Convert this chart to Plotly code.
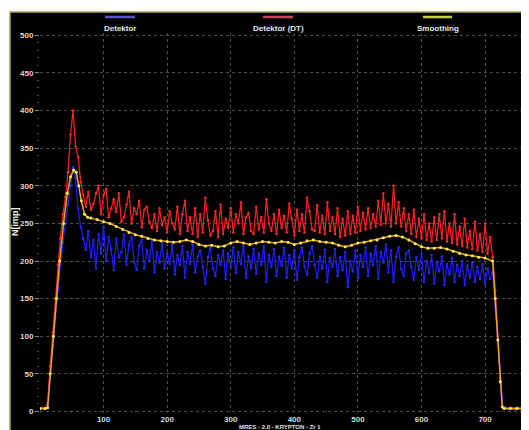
import plotly.graph_objects as go

# ---- data ----
x_det = list(range(0, 760, 4))

det_dt = [4, 5, 4, 12, 60, 105, 150, 195, 230, 262,
          285, 318, 368, 400, 352, 338, 305, 288, 272, 292,
          268, 276, 290, 300, 262, 288, 296, 258, 270, 282,
          265, 290, 252, 258, 275, 292, 250, 270, 262, 280,
          245, 268, 272, 252, 244, 262, 240, 270, 248, 258,
          238, 266, 250, 242, 272, 236, 262, 280, 240, 258,
          236, 270, 232, 262, 238, 284, 254, 234, 240, 266,
          232, 275, 236, 256, 244, 270, 238, 262, 250, 278,
          236, 258, 264, 240, 236, 272, 242, 258, 238, 282,
          250, 240, 262, 236, 268, 244, 260, 238, 276, 256,
          234, 268, 240, 262, 238, 284, 266, 242, 240, 274,
          238, 260, 236, 278, 240, 258, 236, 270, 232, 256,
          234, 266, 236, 260, 238, 272, 240, 264, 242, 270,
          244, 262, 246, 280, 248, 290, 250, 276, 246, 300,
          250, 278, 246, 270, 240, 262, 236, 268, 232, 256,
          230, 262, 228, 250, 226, 258, 228, 262, 230, 266,
          226, 250, 224, 262, 222, 246, 220, 256, 218, 240,
          216, 252, 214, 236, 212, 250, 210, 232, 205, 160,
          100, 44, 6, 4, 4, 5, 4, 4, 5, 4]

det = [3, 4, 3, 8, 48, 88, 125, 160, 195, 225,
       250, 275, 300, 325, 310, 270, 245, 230, 215, 240,
       205, 228, 190, 236, 210, 245, 200, 232, 215, 188,
       230, 205, 212, 235, 195, 222, 232, 198, 188, 220,
       228, 190, 215, 200, 226, 185, 212, 198, 224, 190,
       210, 196, 222, 182, 208, 195, 220, 178, 212, 196,
       222, 185, 206, 214, 192, 170, 205, 218, 190, 180,
       208, 195, 214, 176, 210, 192, 218, 184, 212, 196,
       220, 178, 206, 190, 216, 183, 210, 195, 220, 172,
       208, 192, 216, 180, 206, 194, 218, 178, 208, 190,
       214, 175, 205, 218, 192, 182, 210, 220, 195, 178,
       206, 190, 215, 172, 204, 192, 216, 180, 205, 188,
       212, 165, 200, 186, 214, 178, 208, 192, 218, 180,
       210, 195, 220, 176, 212, 198, 222, 185, 214, 172,
       206, 218, 190, 180, 210, 214, 192, 175, 205, 188,
       210, 172, 200, 184, 208, 170, 198, 186, 206, 168,
       196, 182, 204, 172, 195, 180, 200, 168, 194, 178,
       198, 172, 192, 176, 196, 170, 190, 176, 185, 140,
       90, 38, 5, 6, 3, 4, 5, 3, 4, 5]

x_smooth = [0, 8, 12, 16, 21, 26, 31, 37, 43, 48, 53, 57, 61, 65, 70, 75, 80, 90, 100, 110,
            120, 130, 140, 150, 160, 170, 180, 190, 200, 210, 220, 230, 240, 250, 260, 270, 280, 290, 300, 310,
            320, 330, 340, 350, 360, 370, 380, 390, 400, 410, 420, 430, 440, 450, 460, 470, 480, 490, 500, 510,
            520, 530, 540, 550, 560, 570, 580, 590, 600, 610, 620, 630, 640, 650, 660, 670, 680, 690, 700, 712,
            716, 720, 724, 727, 730, 740, 750, 760]
smoothing = [4, 4, 5, 50, 100, 150, 200, 250, 290, 312, 321, 318, 300, 280, 262, 258, 257, 255, 252, 250,
             246, 242, 238, 235, 233, 230, 228, 227, 226, 225, 226, 228, 226, 222, 220, 221, 219, 220, 224, 226,
             224, 222, 224, 226, 225, 224, 226, 225, 222, 224, 227, 228, 226, 225, 224, 221, 219, 221, 224, 225,
             227, 228, 231, 233, 234, 232, 228, 223, 219, 217, 217, 218, 216, 213, 210, 208, 207, 205, 204, 200,
             150, 95, 40, 6, 4, 4, 4, 4]

series_names = ["Detektor", "Detektor (DT)", "Smoothing"]
x_ticks = [100, 200, 300, 400, 500, 600, 700]
y_ticks = [0, 50, 100, 150, 200, 250, 300, 350, 400, 450, 500]

# The page body has an 8 px margin; screen coordinates = figure coordinates + 8.
OFF = 8
W, H = 529, 430
L, R, T, B = 32, 0, 25, 25
PW, PH = W - L - R, H - T - B


def px(xs):
    return (xs - OFF - L) / PW


def py(ys):
    return (H - B - (ys - OFF)) / PH


fig = go.Figure()
fig.add_trace(go.Scatter(x=x_det, y=det_dt, name=series_names[1], mode="lines+markers",
                         line=dict(color="#ff1f1f", width=1.2), marker=dict(color="#ff2a2a", size=2.5)))
fig.add_trace(go.Scatter(x=x_det, y=det, name=series_names[0], mode="lines+markers",
                         line=dict(color="#1e1eff", width=1.2), marker=dict(color="#2a2aff", size=2.5)))
fig.add_trace(go.Scatter(x=x_smooth, y=smoothing, name=series_names[2], mode="lines+markers",
                         line=dict(color="#f0a820", width=1.5), marker=dict(color="#ffee55", size=3)))

shapes = [dict(type="rect", xref="paper", yref="paper", x0=px(10), x1=1.05, y0=py(445), y1=py(12),
               fillcolor="black", line=dict(color="#a8a848", width=1.5), layer="below")]
legend_cols = ["#5454c8", "#c44858", "#c8d048"]
legend_x = [(105, 135), (263, 293), (423, 452)]
annotations = []
for name, col, (a, b) in zip(series_names, legend_cols, legend_x):
    shapes.append(dict(type="line", xref="paper", yref="paper", x0=px(a), x1=px(b), y0=py(17), y1=py(17),
                       line=dict(color=col, width=2.5)))
    annotations.append(dict(text=name, xref="paper", yref="paper", x=px((a + b) / 2), y=py(28),
                            showarrow=False, xanchor="center", yanchor="middle",
                            font=dict(family="Liberation Sans, Arial", size=8, color="#e8e8e8", weight="bold")))
annotations.append(dict(text="N[imp]", xref="paper", yref="paper", x=px(15), y=py(222), textangle=-90,
                        showarrow=False, xanchor="center", yanchor="middle",
                        font=dict(family="Liberation Sans, Arial", size=9, color="#f0f0f0", weight="bold")))
annotations.append(dict(text="MRES - 2.0 - KRYPTON - Zr 1", xref="paper", yref="paper", x=px(280), y=py(427),
                        showarrow=False, xanchor="center", yanchor="middle",
                        font=dict(family="Liberation Sans, Arial", size=6, color="#e0e0e0", weight="bold")))

fig.update_layout(
    width=W, height=H,
    margin=dict(l=L, r=R, t=T, b=B, autoexpand=False),
    paper_bgcolor="white", plot_bgcolor="black",
    showlegend=False,
    shapes=shapes, annotations=annotations,
    font=dict(family="Liberation Sans, Arial", size=8, color="#d8d8d8"),
)
fig.update_xaxes(range=[0, PW / 0.6358], tickvals=x_ticks, ticks="", showline=False, zeroline=False,
                 showgrid=True, gridcolor="#4c4c4c", griddash="dot", gridwidth=1,
                 tickfont=dict(size=8, color="#d8d8d8", weight="bold"),
                 minor=dict(dtick=50, tick0=0, ticks="inside", ticklen=3, tickcolor="#383838", showgrid=False))
fig.update_yaxes(range=[-2, 503], tickvals=y_ticks, ticks="outside", ticklen=4, tickcolor="#8a8a8a",
                 showline=False, zeroline=False,
                 showgrid=True, gridcolor="#4c4c4c", griddash="dot", gridwidth=1,
                 tickfont=dict(size=8, color="#d8d8d8", weight="bold"),
                 minor=dict(dtick=10, tick0=0, ticks="outside", ticklen=2, tickcolor="#4a4a4a", showgrid=False))

fig.write_html("out.html")
